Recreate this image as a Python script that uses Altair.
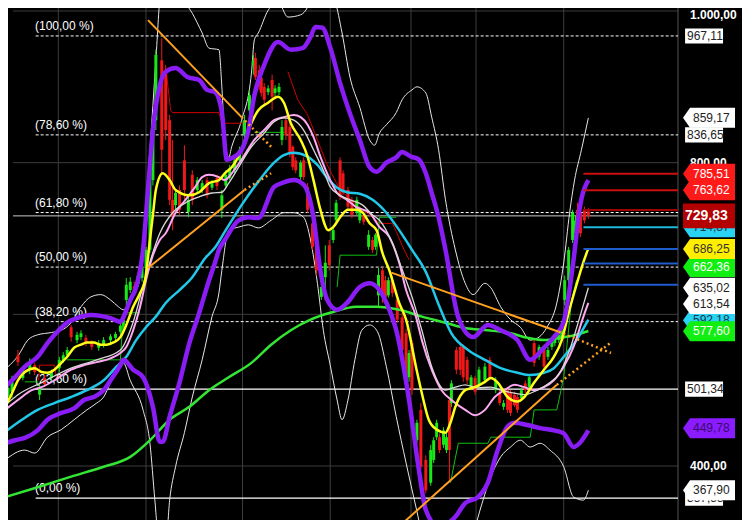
import altair as alt
import pandas as pd

# ---------------- candles (price values) ----------------
cdl_t = [3,7,13,18,25,30,35,40,47,55,59,63,67,73,77,82,88,95,100,107,112,117,120,123,127,131,135,139,143,147,
         150,153,159,163,167,170,173,177,182,186,190,195,200,205,210,215,220,224,228,233,238,243,248,252,254,258,260,263,267,271,
         274,278,281,285,289,292,295,300,303,307,312,316,321,325,329,333,336,340,343,348,352,357,360,364,369,373,376,379,383,386,
         389,393,398,403,407,410,413,418,422,427,432,435,438,441,445,448,451,453,458,462,465,469,473,477,481,487,492,498,502,506,
         510,513,517,520,524,528,532,537,542,547,551,555,558,562,565,568,572,576,579,581,584,588,592]
cdl_o = [492,498,546,516,527,533,494,516,516,529,540,546,583,566,570,569,564,556,560,566,569,577,585,619,632,637,640,648,661,685,
         777,856,935,922,856,751,744,764,803,735,784,764,764,777,767,780,738,770,780,790,803,836,869,929,938,922,912,900,893,909,
         892,893,830,856,847,821,803,781,803,768,720,698,623,649,691,698,724,803,786,764,751,734,724,731,689,698,689,625,658,645,
         625,645,619,596,575,517,562,434,474,408,378,408,438,438,428,421,487,483,553,557,557,540,504,516,507,513,540,500,496,478,
         500,496,494,491,490,509,504,562,544,557,544,557,562,566,569,619,645,698,707,738,734,738,736]
cdl_c = [503,513,537,527,537,524,503,508,524,540,546,553,570,573,575,562,557,562,566,571,574,585,593,639,643,629,651,661,685,777,
         856,942,817,843,751,728,760,738,764,751,751,777,773,757,773,769,757,784,793,803,817,856,889,935,913,902,892,883,898,887,
         898,900,847,836,813,794,790,800,781,738,689,658,636,668,665,711,747,755,764,742,731,751,738,722,705,685,705,652,625,623,
         645,628,593,553,509,549,500,457,399,368,421,434,457,421,447,438,421,509,527,527,517,513,517,498,527,531,517,513,483,483,
         474,470,480,474,500,500,517,536,557,531,553,566,569,573,579,645,685,734,724,711,707,724,730]
cdl_h = [511,519,553,531,542,536,508,520,527,544,550,557,586,577,579,573,566,566,570,574,577,589,596,648,649,643,654,665,689,786,
         863,949,964,929,863,830,764,770,823,757,790,781,777,781,777,784,764,790,797,807,821,863,896,942,945,929,916,905,902,916,
         902,905,856,860,852,823,807,803,807,773,724,705,640,691,698,714,751,807,790,768,755,755,742,735,711,702,707,661,662,651,
         649,651,623,602,581,553,566,461,483,414,428,438,461,443,451,443,491,513,557,562,560,544,520,519,531,536,544,517,500,487,
         504,500,498,494,504,513,520,566,560,560,557,570,573,577,583,651,689,738,731,747,738,742,740]
cdl_l = [487,490,532,513,521,520,487,504,511,524,536,542,564,562,566,558,553,552,556,562,566,573,581,612,628,625,636,643,658,681,
         770,843,784,830,744,711,738,731,751,728,744,760,760,753,764,764,727,767,777,786,800,830,863,916,909,896,887,876,889,869,
         887,889,823,830,807,790,786,777,777,734,685,651,619,619,658,694,718,751,757,738,727,731,720,718,685,681,685,610,615,619,
         622,623,589,549,503,511,494,430,395,364,374,404,434,417,424,417,381,478,521,520,511,508,500,494,503,509,513,496,480,474,
         470,466,478,470,487,496,500,531,540,527,540,553,558,562,565,612,640,694,702,707,702,720,726]

# ---------------- indicator lines ----------------
pu_t = [0,10,20,33,43,53,63,73,87,97,107,117,120,127,133,140,145,150,157,163,173,185,197,205,213,220,225,230,240,247,
        253,263,277,290,302,310,315,322,330,340,350,360,370,377,387,397,403,412,420,427,433,440,447,460,475,490,503,520,533,547,
        557,567,572,577,583,592]
pu_p = [504,517,531,544,562,577,589,595,599,598,595,590,596,619,636,685,764,843,902,920,925,913,909,896,893,867,804,806,817,843,
        889,929,959,949,951,966,979,978,952,905,865,830,794,788,800,807,814,808,804,786,760,728,685,596,570,586,579,566,540,556,
        570,590,625,672,738,777]
pl_t = [0,10,20,33,43,57,70,80,90,100,107,117,120,130,140,150,157,160,167,177,187,197,207,213,217,223,237,247,257,273,
        283,293,303,313,320,327,337,347,360,370,380,390,397,410,420,427,440,457,467,480,490,500,510,517,530,543,557,567,577,583,592]
pl_p = [430,434,437,447,461,470,476,487,491,500,513,533,540,527,517,478,432,432,465,510,562,602,645,668,685,698,724,728,727,768,
        774,777,771,728,658,619,606,615,636,641,632,606,579,487,395,342,320,333,351,359,378,421,452,457,454,450,447,443,425,430,447]
wu_t = [3,13,23,33,47,57,67,77,87,97,107,115,120,127,133,140,147,153,158,165,175,182,190,200,207,217,220,223,227,230,
        240,250,253,257,267,277,287,300,307,312,322,330,335,342,350,360,370,375,380,387,397,403,413,418,427,433,440,447,457,467,
        475,487,493,503,513,523,533,542,550,560,567,573,578,585,592]
wu_p = [531,545,566,573,576,579,589,610,623,626,619,610,606,619,636,698,817,935,1028,1054,1041,1014,997,971,951,949,900,830,807,821,
        856,918,962,971,1001,1012,992,995,1005,1021,1034,1021,1012,971,913,873,830,823,839,850,866,883,896,900,892,860,817,751,685,641,
        626,641,635,610,593,583,566,570,583,615,668,734,777,817,859]
wl_t = [0,20,30,43,57,70,83,93,100,107,115,120,127,140,147,152,156,163,167,173,182,190,200,210,217,220,227,237,247,257,
        270,283,293,303,310,317,323,330,337,342,348,355,362,370,378,387,397,407,417,425,440,460,477,483,493,503,513,523,533,543,
        553,567,577,587,592]
wl_p = [408,421,417,438,448,461,474,483,491,510,531,536,513,474,430,355,302,296,355,399,444,491,540,597,628,658,711,715,718,714,
        724,734,734,728,698,641,579,533,487,461,487,540,579,586,577,531,465,404,346,302,276,289,320,346,386,412,425,434,425,430,
        421,399,359,355,368]
yl_t = [0,7,13,20,30,37,43,50,57,63,70,77,83,90,97,103,110,117,123,130,137,142,147,150,153,160,167,173,187,197,
        207,217,223,230,240,247,257,267,277,283,290,300,307,313,320,328,333,340,348,357,363,370,377,383,390,400,407,417,423,430,
        438,447,452,457,467,477,487,493,500,510,520,527,537,547,557,565,572,580,586,592]
yl_p = [478,496,513,524,529,524,523,527,536,544,556,560,563,563,560,560,563,570,586,610,628,645,698,731,764,786,777,764,757,761,
        773,777,786,794,817,843,869,879,887,879,852,830,808,777,738,711,715,728,738,738,734,720,711,681,658,615,593,531,496,461,
        448,444,457,478,500,504,511,516,510,491,485,491,510,527,544,566,602,639,665,687]
pk_t = [0,13,27,37,50,67,80,93,107,117,123,130,137,143,150,157,163,173,183,193,200,207,217,223,230,240,253,263,273,283,
        293,300,307,313,320,330,337,347,357,370,380,390,400,407,417,423,433,443,453,467,477,487,497,507,517,527,537,547,557,567,
        577,587,592]
pk_p = [474,487,500,504,513,527,533,537,542,549,557,579,610,645,678,698,707,734,751,768,781,784,781,777,786,804,830,843,856,860,
        863,860,850,834,808,777,760,751,741,734,715,702,668,632,597,566,527,500,487,474,467,474,491,500,507,504,500,504,513,531,
        557,597,615]
wm_t = [0,13,37,67,93,117,130,143,157,170,183,197,210,220,227,237,250,263,273,283,293,303,313,323,330,340,350,363,373,380,
        393,403,413,423,433,447,457,467,480,493,503,517,527,540,553,563,573,583,592]
wm_p = [480,494,510,529,540,553,590,652,707,734,747,755,760,761,773,794,821,839,854,859,856,843,817,790,768,757,751,744,731,724,
        694,659,623,579,531,500,504,507,503,504,500,496,494,500,510,523,553,595,635]
cy_t = [0,17,33,50,67,83,100,113,123,133,143,153,163,177,190,203,213,223,240,257,273,283,293,307,317,327,337,347,360,373,
        387,400,413,427,440,453,470,487,503,520,533,547,557,567,580,592]
cy_p = [445,461,474,483,491,500,513,531,544,566,583,597,615,632,649,674,688,709,744,775,800,810,813,808,797,780,767,761,759,751,
        734,711,685,656,613,575,553,540,529,523,520,523,529,544,566,593]
gl_t = [0,33,67,100,127,147,167,187,207,227,250,270,290,310,330,357,377,400,423,447,467,490,513,530,547,563,580,592]
gl_p = [359,372,386,399,412,434,461,478,500,517,536,560,579,593,602,610,610,606,597,589,582,579,575,569,566,569,573,578]

red_step_t = [[34,35,50,52],[163,168,170,217,220,243],[287,297,307,317,327,340,357,370,380,393,397,405,410]]
red_step_p = [[513,533,533,517],[926,869,866,866,852,852],[920,883,863,830,797,764,744,731,720,720,709,685,672]]
grn_step_t = [[20,33],[63,100,117,120,137],[253,283],[337,340,377,380,397],[452,460,490,493,533,537,560,567,575,580]]
grn_step_p = [[511,511],[540,540,540,602,602],[840,840],[636,678,678,728,728],[378,430,430,438,438,474,474,517,619,645]]

trend_t = [[145,240],[145,243],[392,562],[398,560]]
trend_p = [[988,860],[661,764],[655,577],[318,507]]
trend_ext_t = [[240,270],[243,270],[562,615],[560,615]]
trend_ext_p = [[860,821],[764,786],[577,549],[507,563]]

# ---------------- levels & labels ----------------
fib_lab = ["(100,00 %)", "(78,60 %)", "(61,80 %)", "(50,00 %)", "(38,20 %)", "(23,60 %)", "(0,00 %)"]
fib_val = [967.11, 836.65, 734.25, 662.32, 590.39, 501.39, 357.53]
fib_solid = [False, False, False, False, False, True, True]

hl_val = [785.51, 763.62, 737.6, 714.87, 686.25, 667.0, 639.0]
hl_col = ["#cc1010", "#cc1010", "#a00000", "#1fb8d8", "#1f5ccc", "#1f5ccc", "#1f5ccc"]
last_price = 729.83

grid_t = [54, 143, 241, 330, 412, 478, 567]
axis_vals = [400, 600, 800, 1000]
axis_labs = ["400,00", "600,00", "800,00", "1.000,00"]

lbl_val = [357.53, 367.90, 449.78, 501.34, 592.18, 613.54, 577.60, 635.02, 662.36, 686.25, 714.87, 729.83, 763.62, 785.51, 836.65, 859.17, 967.11]
lbl_txt = ["357,53", "367,90", "449,78", "501,34", "592,18", "613,54", "577,60", "635,02", "662,36", "686,25", "714,87", "729,83", "763,62", "785,51", "836,65", "859,17", "967,11"]
lbl_kind = ["box", "arrow", "arrow", "box", "arrow", "arrow", "arrow", "arrow", "arrow", "arrow", "arrow", "big", "arrow", "arrow", "box", "arrow", "box"]
lbl_fill = ["#ffffff", "#ffffff", "#8a1cff", "#ffffff", "#29d3f3", "#ffffff", "#11ee11", "#ffffff", "#11ee11", "#ffee00", "#29d3f3", "#b30000", "#ff1a1a", "#ff1a1a", "#ffffff", "#ffffff", "#ffffff"]
lbl_tcol = ["#222222", "#222222", "#3a0a6b", "#222222", "#1b3a4a", "#222222", "#ffffff", "#222222", "#ffffff", "#333333", "#1b3a4a", "#ffffff", "#ffffff", "#ffffff", "#222222", "#222222", "#222222"]

# ---------------- chart ----------------
FONT = "Liberation Sans"
W, H = 675, 512
xs = alt.Scale(domain=[8, 683], nice=False, zero=False)
ys = alt.Scale(domain=[328.8, 1003.96], nice=False, zero=False)


def X(f="t"):
    return alt.X(f + ":Q", scale=xs, axis=None)


def Y(f="p"):
    return alt.Y(f + ":Q", scale=ys, axis=None)


def line(ts, ps, color, width, dash=None, interp="monotone"):
    df = pd.DataFrame({"t": ts, "p": ps})
    kw = dict(color=color, strokeWidth=width, clip=True, interpolate=interp)
    if dash:
        kw["strokeDash"] = dash
    return alt.Chart(df).mark_line(**kw).encode(x=X(), y=Y())


def seglines(tss, pss, color, width, dash=None):
    rows = []
    for i, (ts, ps) in enumerate(zip(tss, pss)):
        for t, p in zip(ts, ps):
            rows.append({"seg": i, "t": t, "p": p})
    kw = dict(color=color, strokeWidth=width, clip=True)
    if dash:
        kw["strokeDash"] = dash
    return alt.Chart(pd.DataFrame(rows)).mark_line(**kw).encode(x=X(), y=Y(), detail="seg:N")


layers = []

# grid, axis line and axis labels
hg = pd.DataFrame({"v": axis_vals, "lab": axis_labs, "x0": 8, "x1": 683})
layers.append(alt.Chart(hg).mark_rule(color="#3d3d3d", strokeWidth=1).encode(
    x=alt.X("x0:Q", scale=xs, axis=None), x2="x1:Q", y=Y("v")))
vg = pd.DataFrame({"t": grid_t})
layers.append(alt.Chart(vg).mark_rule(color="#3d3d3d", strokeWidth=1).encode(
    x=X(), y=alt.value(0), y2=alt.value(H)))
layers.append(alt.Chart(pd.DataFrame({"t": [683]})).mark_rule(color="#555555", strokeWidth=1).encode(
    x=X(), y=alt.value(0), y2=alt.value(H)))
layers.append(alt.Chart(hg[hg.v < 1000]).mark_text(align="left", baseline="middle", font=FONT, fontSize=12, fontWeight="bold",
                                                   color="white").encode(x=alt.value(682), y=Y("v"), text="lab:N"))
layers.append(alt.Chart(hg[hg.v >= 1000]).mark_text(align="left", baseline="top", dy=-1, font=FONT, fontSize=12, fontWeight="bold",
                                                    color="white").encode(x=alt.value(682), y=Y("v"), text="lab:N"))

# fibonacci levels
fib_df = pd.DataFrame({"lab": fib_lab, "v": fib_val, "solid": fib_solid, "x0": 31, "x1": 683})
layers.append(alt.Chart(fib_df[~fib_df.solid]).mark_rule(color="white", strokeWidth=1, strokeDash=[3, 2]).encode(
    x=alt.X("x0:Q", scale=xs, axis=None), x2="x1:Q", y=Y("v")))
layers.append(alt.Chart(fib_df[fib_df.solid]).mark_rule(color="white", strokeWidth=1.2).encode(
    x=alt.X("x0:Q", scale=xs, axis=None), x2="x1:Q", y=Y("v")))
layers.append(alt.Chart(fib_df).mark_text(align="left", baseline="middle", dy=-10, color="white", font=FONT, fontSize=12).encode(
    x=alt.value(27), y=Y("v"), text="lab:N"))

# last price line across
layers.append(alt.Chart(pd.DataFrame({"v": [last_price], "x0": [8], "x1": [683]})).mark_rule(color="#c8c8c8", strokeWidth=1).encode(
    x=alt.X("x0:Q", scale=xs, axis=None), x2="x1:Q", y=Y("v")))

# bands and step lines
layers.append(line(wu_t, wu_p, "#e6e6e6", 1))
layers.append(line(wl_t, wl_p, "#e6e6e6", 1))
layers.append(seglines(red_step_t, red_step_p, "#d00000", 1))
layers.append(seglines(grn_step_t, grn_step_p, "#10c010", 1))

# candles
cdf = pd.DataFrame({"t": cdl_t, "o": cdl_o, "h": cdl_h, "l": cdl_l, "c": cdl_c})
cdf["col"] = ["#18e818" if c >= o else "#f01818" for o, c in zip(cdf.o, cdf.c)]
layers.append(alt.Chart(cdf).mark_rule(strokeWidth=1, clip=True).encode(
    x=X(), y=Y("l"), y2="h:Q", color=alt.Color("col:N", scale=None)))
layers.append(alt.Chart(cdf).mark_bar(size=3, clip=True).encode(
    x=X(), y=Y("o"), y2="c:Q", color=alt.Color("col:N", scale=None)))

# moving averages
layers.append(line(gl_t, gl_p, "#33e633", 2.5))
layers.append(line(cy_t, cy_p, "#22c8ea", 2.5))
layers.append(line(pk_t, pk_p, "#ffa8f4", 2))
layers.append(line(wm_t, wm_p, "#d8d8d8", 1.3))
layers.append(line(yl_t, yl_p, "#ffff1a", 2.5))
layers.append(line(pu_t, pu_p, "#8a1cf5", 4.5))
layers.append(line(pl_t, pl_p, "#8a1cf5", 4.5))

# trend lines
layers.append(seglines(trend_t, trend_p, "#ffa020", 2))
layers.append(seglines(trend_ext_t, trend_ext_p, "#ffa020", 2.5, dash=[2, 3]))

# right-side level lines
hl_df = pd.DataFrame({"v": hl_val, "col": hl_col, "x0": 587, "x1": 683})
layers.append(alt.Chart(hl_df).mark_rule(strokeWidth=2).encode(
    x=alt.X("x0:Q", scale=xs, axis=None), x2="x1:Q", y=Y("v"), color=alt.Color("col:N", scale=None)))

# price labels on the right
ARROW = "M -1 0 L -0.73 -0.385 L 1 -0.385 L 1 0.385 L -0.73 0.385 Z"
BOX = "M -0.92 -0.29 L 0.54 -0.29 L 0.54 0.29 L -0.92 0.29 Z"
BIG = "M -1 -0.48 L 1 -0.48 L 1 0.48 L -1 0.48 Z"
shapes = {"arrow": ARROW, "box": BOX, "big": BIG}
for v, txt, kind, fill, tcol in zip(lbl_val, lbl_txt, lbl_kind, lbl_fill, lbl_tcol):
    d = pd.DataFrame({"v": [v], "txt": [txt]})
    layers.append(alt.Chart(d).mark_point(shape=shapes[kind], size=2704, filled=True, opacity=1,
                                          fill=fill, strokeWidth=0).encode(x=alt.value(701), y=Y("v")))
    if kind == "big":
        tx, fs, fw = 677, 14, "bold"
    elif kind == "box":
        tx, fs, fw = 679, 12, "normal"
    else:
        tx, fs, fw = 685, 12, "normal"
    layers.append(alt.Chart(d).mark_text(align="left", baseline="middle", font=FONT, fontSize=fs,
                                         fontWeight=fw, color=tcol).encode(x=alt.value(tx), y=Y("v"), text="txt:N"))

chart = alt.layer(*layers).properties(
    width=W, height=H,
    autosize=alt.AutoSizeParams(type="none"),
    padding={"left": 0, "top": 0, "right": 59, "bottom": 0},
    background="black",
).configure_view(strokeWidth=0)

chart.save("out.html", embed_options={"renderer": "svg", "actions": False})
